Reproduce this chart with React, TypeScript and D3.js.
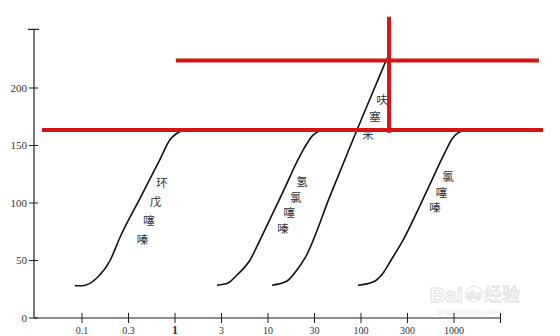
import React from "react";
import * as d3 from "d3";

// x axis: dose (log-like, equally spaced labelled ticks)
const doseTicks = [0.03, 0.1, 0.3, 1, 3, 10, 30, 100, 300, 1000, 3000];
const doseTickLabels = ["", "0.1", "0.3", "1", "3", "10", "30", "100", "300", "1000", ""];
const yTicks = [0, 50, 100, 150, 200];
const yTickLabels = ["0", "50", "100", "150", "200"];

// curves (dose, response)
const cyclopenthiazideDose = [0.083, 0.1, 0.143, 0.194, 0.245, 0.404, 0.678, 0.878, 1.02, 1.24];
const cyclopenthiazideResp = [28, 28, 35, 50, 70, 104, 138, 155, 160, 163.5];
const hydrochlorothiazideDose = [2.7, 3.55, 4.48, 6.28, 8.13, 13.9, 22.9, 29, 34.6, 41.5];
const hydrochlorothiazideResp = [28.5, 30.4, 37.4, 50.4, 67.8, 107.8, 146, 159, 162.6, 163.5];
const furosemideDose = [11.0, 15.7, 19.8, 24.0, 44.8, 90, 185];
const furosemideResp = [28.5, 32.2, 41.7, 52.2, 106, 163.5, 226];
const chlorothiazideDose = [92.5, 133, 168, 198, 270, 472, 792, 950, 1099, 1328];
const chlorothiazideResp = [28.5, 31.3, 39, 48.7, 67.8, 107, 144, 155.7, 160.9, 163.5];

const curves = [
  { dose: cyclopenthiazideDose, resp: cyclopenthiazideResp },
  { dose: hydrochlorothiazideDose, resp: hydrochlorothiazideResp },
  { dose: furosemideDose, resp: furosemideResp },
  { dose: chlorothiazideDose, resp: chlorothiazideResp },
];

// vertical labels: text, anchor dose, anchor response
const labelTexts = ["环戊噻嗪", "氢氯噻嗪", "呋塞米", "氯噻嗪"];
const labelDose = [0.714, 22.3, 164, 856];
const labelResp = [117, 118, 190, 122.6];
const labelStepX = [-6.5, -6.3, -7, -6.5];
const labelStepY = [19, 15.5, 17.5, 15.5];

// red annotation lines
const redHLevels = [163.5, 224];
const redHFrom = [0.0354, 1.02];
const redHTo = [8190, 7450];
const redVDose = 194;
const redVFrom = 161;
const redVTo = 262;

export default function App() {
  const W = 560, H = 336;
  const x = d3
    .scaleLog()
    .domain(doseTicks)
    .range(doseTicks.map((_, i) => 35.5 + i * 46.5));
  const y = d3.scaleLinear().domain([0, 250]).range([318, 30.5]);

  const line = d3
    .line<[number, number]>()
    .x((d) => x(d[0]))
    .y((d) => y(d[1]))
    .curve(d3.curveMonotoneX);

  const axisColor = "#1e1e1e";
  const x0 = 34;
  const yAxisTop = y(251);

  return (
    <svg
      width={W}
      height={H}
      style={{ position: "absolute", left: 0, top: 0, background: "#fff" }}
      fontFamily="'Liberation Serif', 'DejaVu Serif', serif"
    >
      <rect width={W} height={H} fill="#fff" />
      {/* watermark */}
      <g fill="none" stroke="#e2e2e2" strokeWidth={1}>
        <text x={430} y={302} fontSize={21} fontFamily="Arial, 'Liberation Sans', sans-serif" fontWeight={700}>
          Bai
        </text>
        <circle cx={474} cy={294} r={8} />
        <text x={467} y={299} fontSize={11} fontFamily="Arial, 'Liberation Sans', sans-serif" fontWeight={700}>
          du
        </text>
      </g>
      <text x={484} y={301} fontSize={18} fill="none" stroke="#e2e2e2" strokeWidth={0.8} fontFamily="'Noto Sans CJK SC', sans-serif">
        经验
      </text>
      <text x={438} y={314} fontSize={8} fill="#e8e8e8" fontFamily="Arial, sans-serif">
        jingyan.baidu.com
      </text>

      {/* y axis */}
      <line x1={x0} x2={x0} y1={y(0)} y2={yAxisTop} stroke={axisColor} strokeWidth={1.2} />
      <line x1={x0 - 6} x2={x0 + 5} y1={yAxisTop} y2={yAxisTop} stroke={axisColor} strokeWidth={1.2} />
      {yTicks.map((t, i) => (
        <g key={"yt" + i}>
          <line x1={x0 - 5} x2={x0 + 4} y1={y(t)} y2={y(t)} stroke={axisColor} strokeWidth={1} />
          <text
            x={x0 - 7}
            y={y(t)}
            dy="0.35em"
            textAnchor="end"
            fontSize={11}
            fill="#333"
          >
            {yTickLabels[i]}
          </text>
        </g>
      ))}

      {/* x axis */}
      <line x1={x0} x2={x(3000)} y1={y(0)} y2={y(0)} stroke={axisColor} strokeWidth={1.2} />
      {doseTicks.slice(1).map((t, i) => (
        <g key={"xt" + i}>
          <line x1={x(t)} x2={x(t)} y1={y(0) - 5} y2={y(0) + 5} stroke={axisColor} strokeWidth={1} />
          <text
            x={x(t)}
            y={y(0) + 12}
            dy="0.35em"
            textAnchor="middle"
            fontSize={t === 1 ? 12 : 10}
            fontWeight={t === 1 ? 700 : 400}
            fill="#333"
          >
            {doseTickLabels[i + 1]}
          </text>
        </g>
      ))}

      {/* curves */}
      {curves.map((c, i) => (
        <path
          key={"c" + i}
          d={line(c.dose.map((d, j) => [d, c.resp[j]] as [number, number])) || ""}
          fill="none"
          stroke="#111"
          strokeWidth={1.6}
        />
      ))}

      {/* vertical labels */}
      {labelTexts.map((txt, i) => (
        <g key={"l" + i}>
          {Array.from(txt).map((ch, k) => (
            <text
              key={k}
              x={x(labelDose[i]) + k * labelStepX[i]}
              y={y(labelResp[i]) + k * labelStepY[i]}
              dy="0.35em"
              textAnchor="middle"
              fontSize={11.5}
              fill="#333"
              fontFamily="'Noto Sans CJK SC', sans-serif"
            >
              {ch}
            </text>
          ))}
        </g>
      ))}

      {/* red annotation lines */}
      {redHLevels.map((lv, i) => (
        <line
          key={"rh" + i}
          x1={x(redHFrom[i])}
          x2={x(redHTo[i])}
          y1={y(lv)}
          y2={y(lv)}
          stroke="#d41515"
          strokeWidth={4}
        />
      ))}
      <line
        x1={x(redVDose)}
        x2={x(redVDose)}
        y1={y(redVFrom)}
        y2={y(redVTo)}
        stroke="#d41515"
        strokeWidth={4}
      />
    </svg>
  );
}
